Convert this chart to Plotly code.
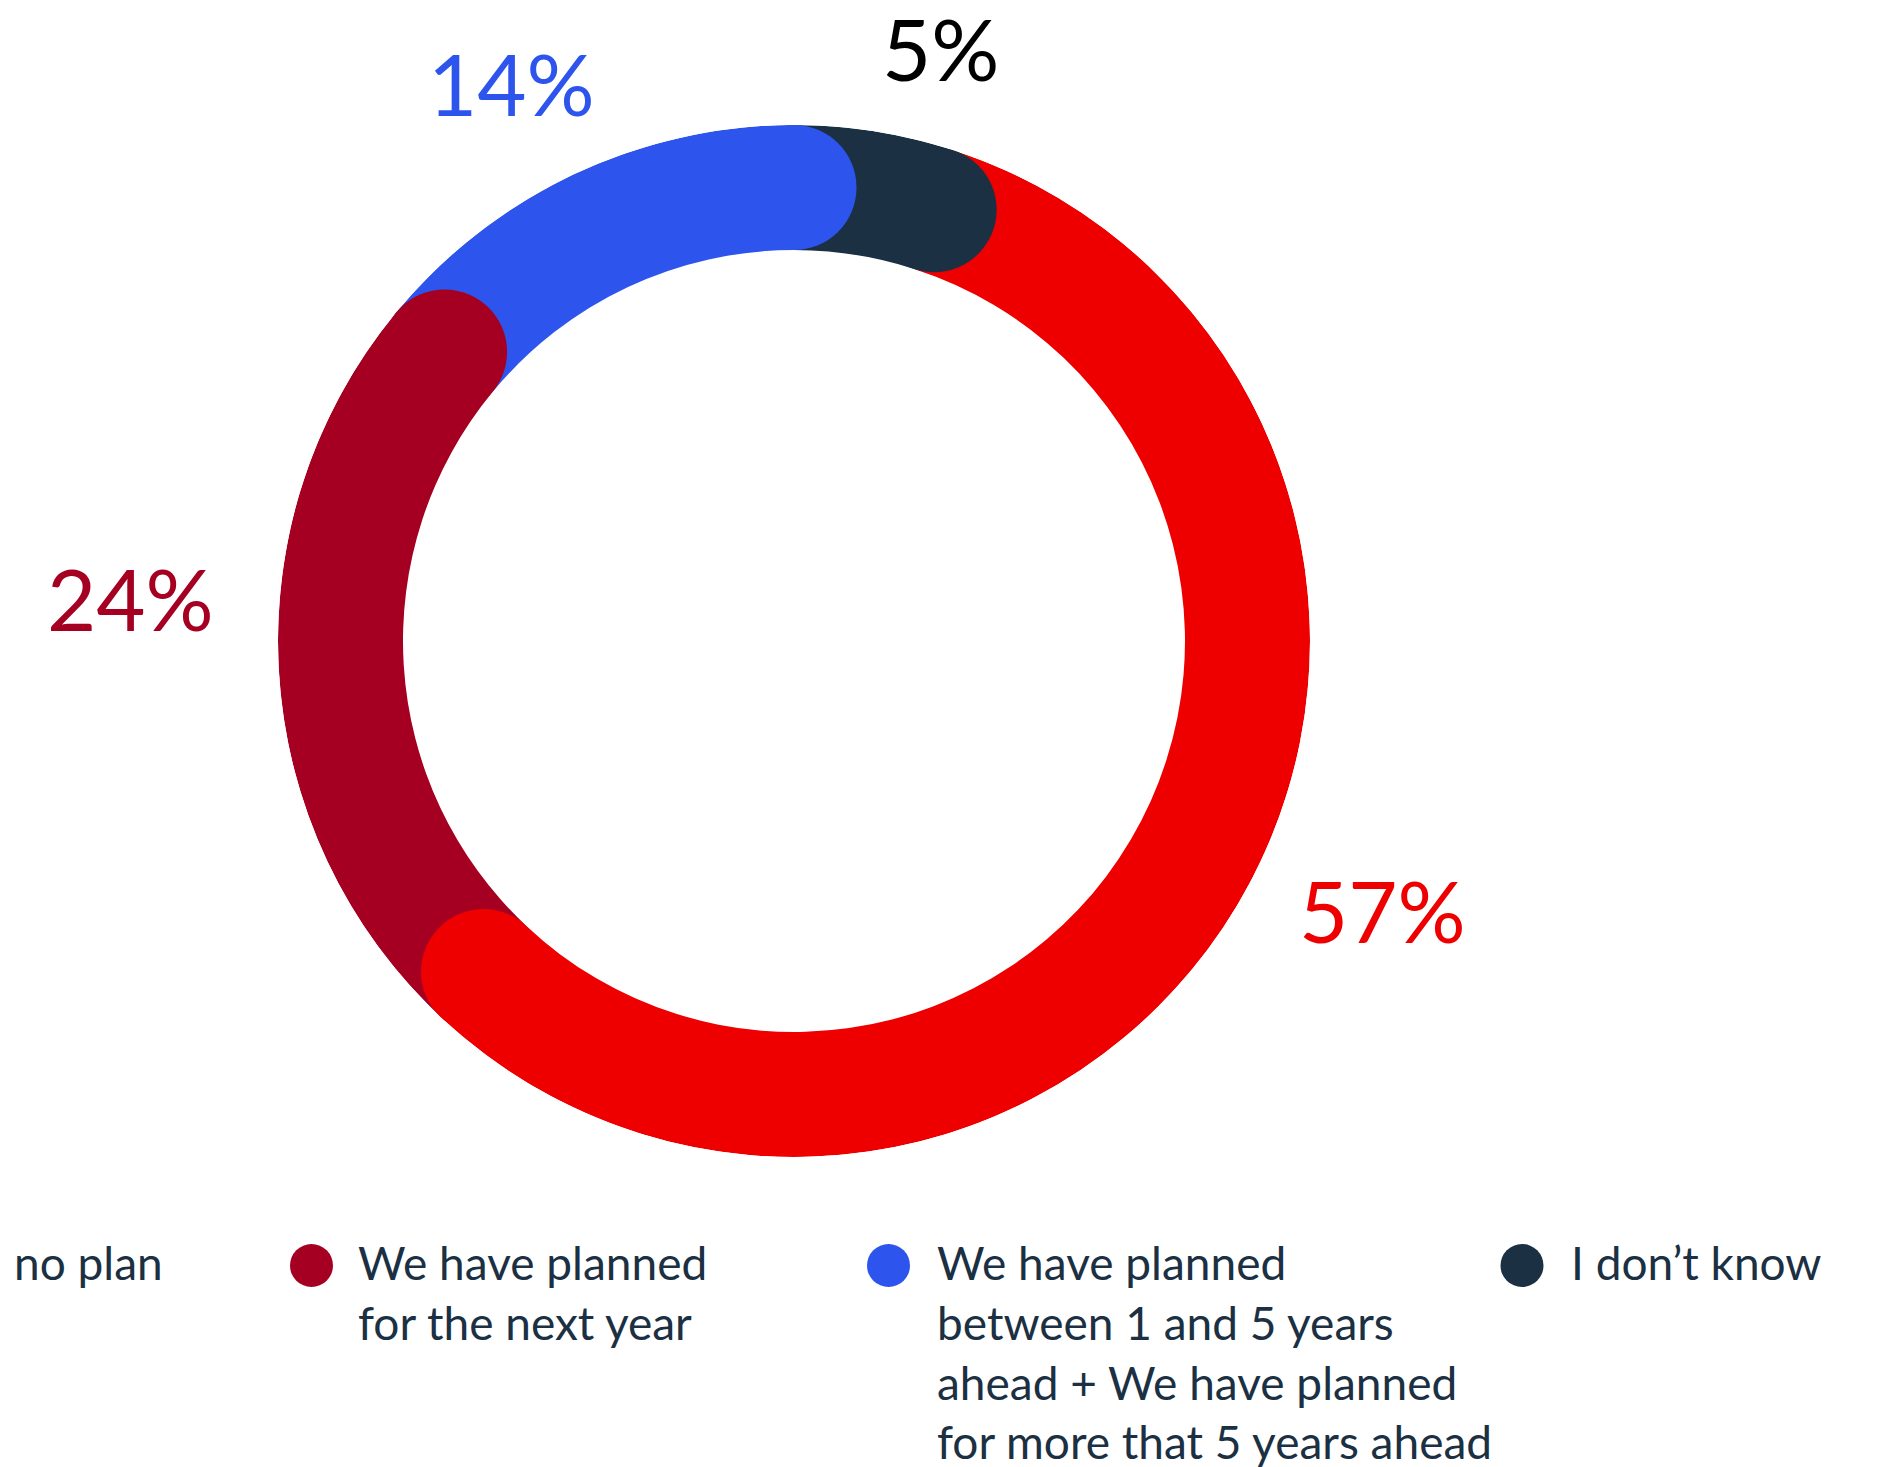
import plotly.graph_objects as go

# ---------------- data ----------------
categories = [
    "We have no plan",
    "We have planned for the next year",
    "We have planned between 1 and 5 years ahead + We have planned for more that 5 years ahead",
    "I don\u2019t know",
]
legend_text = [
    "no plan",
    "We have planned<br>for the next year",
    "We have planned<br>between 1 and 5 years<br>ahead + We have planned<br>for more that 5 years ahead",
    "I don\u2019t know",
]
legend_prefix = "We have"  # first legend entry starts off the left edge of the canvas
values = [57, 24, 14, 5]
value_labels = ["57%", "24%", "14%", "5%"]
colors = ["#EE0000", "#A50021", "#2E54EE", "#1B3042"]
label_colors = ["#EE0000", "#A50021", "#2E54EE", "#000000"]
draw_order = [3, 0, 1, 2]  # clockwise from the top

# ---------------- layout constants (pixels) ----------------
W, H = 1891, 1467
CX, CY = 794, 641
R_OUT, R_IN = 516, 391
THICK = R_OUT - R_IN
R_MID = R_IN + THICK / 2
FONT = "Lato"
TEXT_COL = "#1B3042"

def px(x):
    return x / W

def py(y):
    return 1 - y / H

total = sum(values)
fig = go.Figure()

# ring segments
start = 0.0
ends = []
for i in draw_order:
    span = values[i] / total * 360
    fig.add_trace(go.Barpolar(
        r=[THICK], base=[R_IN], theta=[start + span / 2], width=[span],
        marker=dict(color=colors[i], line=dict(width=0)),
        name=categories[i], showlegend=False, hoverinfo="skip",
    ))
    ends.append((i, start + span))
    start += span

# rounded caps at the clockwise end of each segment
for i, end in ends:
    fig.add_trace(go.Scatterpolar(
        r=[R_MID], theta=[end], mode="markers",
        marker=dict(size=THICK, color=colors[i], line=dict(width=0)),
        showlegend=False, hoverinfo="skip", cliponaxis=False,
    ))

# percentage labels (centres in pixels)
label_pos = [(1382, 910), (130, 598), (511, 83), (940, 48)]
annotations = []
for i, (lx, ly) in enumerate(label_pos):
    annotations.append(dict(
        x=px(lx), y=py(ly), xref="paper", yref="paper",
        xanchor="center", yanchor="middle", showarrow=False,
        text=value_labels[i],
        font=dict(family=FONT, size=85, color=label_colors[i]),
    ))

# legend built from markers + text
LEG_TOP = 1233
marker_x = [-230, 311.5, 888.5, 1522]
text_x = [12, 356, 935, 1569]
shapes = []
for i in range(4):
    shapes.append(dict(
        type="circle", xref="paper", yref="paper",
        xsizemode="pixel", ysizemode="pixel",
        xanchor=px(marker_x[i]), yanchor=py(1265.5),
        x0=-21.5, x1=21.5, y0=-21.5, y1=21.5,
        fillcolor=colors[i], line=dict(width=0),
    ))
    annotations.append(dict(
        x=px(text_x[i]), y=py(LEG_TOP), xref="paper", yref="paper",
        xanchor="left", yanchor="top",
        align="left", showarrow=False, text=legend_text[i],
        font=dict(family=FONT, size=46, color=TEXT_COL),
    ))
# hidden-off-canvas beginning of the first legend entry
annotations.append(dict(
    x=px(-4), y=py(LEG_TOP), xref="paper", yref="paper",
    xanchor="right", yanchor="top", align="left", showarrow=False,
    text=legend_prefix, font=dict(family=FONT, size=46, color=TEXT_COL),
))

axis_off = dict(showgrid=False, showticklabels=False, showline=False, ticks="")
fig.update_layout(
    width=W, height=H,
    margin=dict(l=0, r=0, t=0, b=0),
    paper_bgcolor="white", plot_bgcolor="white",
    showlegend=False,
    polar=dict(
        domain=dict(x=[px(CX - R_OUT), px(CX + R_OUT)], y=[py(CY + R_OUT), py(CY - R_OUT)]),
        bgcolor="white", bargap=0,
        radialaxis=dict(range=[0, R_OUT], visible=False, **axis_off),
        angularaxis=dict(direction="clockwise", rotation=90, visible=False, **axis_off),
    ),
    annotations=annotations,
    shapes=shapes,
)

fig.write_html("out.html")
